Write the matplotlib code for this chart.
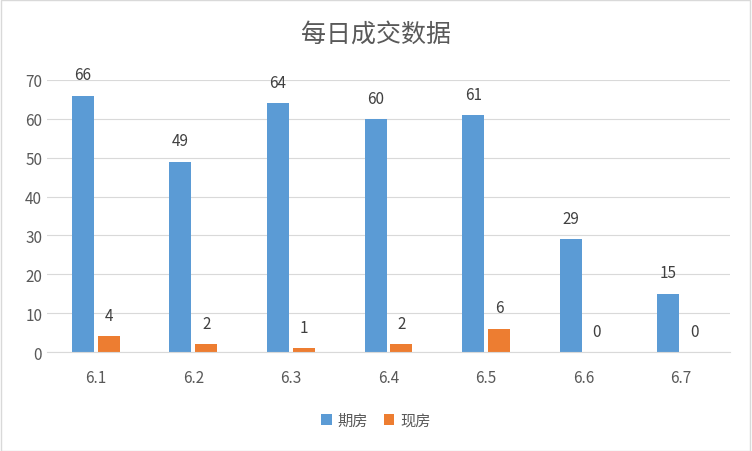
import matplotlib
matplotlib.use("Agg")
import matplotlib.pyplot as plt
import numpy as np

plt.rcParams["font.family"] = ["Noto Sans CJK SC", "DejaVu Sans"]

categories = ["6.1", "6.2", "6.3", "6.4", "6.5", "6.6", "6.7"]
futures = [66, 49, 64, 60, 61, 29, 15]
spot = [4, 2, 1, 2, 6, 0, 0]

blue = "#5B9BD5"
orange = "#ED7D31"
text_color = "#595959"

fig = plt.figure(figsize=(7.52, 4.52), dpi=100)
ax = fig.add_axes([47 / 752, 1 - 353 / 452, (730 - 47) / 752, (353 - 81) / 452])

x = np.arange(len(categories))
width = 0.225
gap = 0.02
b1 = ax.bar(x - width / 2 - gap, futures, width, color=blue, label="期房")
b2 = ax.bar(x + width / 2 + gap, spot, width, color=orange, label="现房")

for bars in (b1, b2):
    for rect in bars:
        h = rect.get_height()
        ax.annotate(f"{int(h)}", (rect.get_x() + rect.get_width() / 2, h),
                    xytext=(0, 15), textcoords="offset points",
                    ha="center", va="center", fontsize=11, color="#404040")

ax.set_ylim(0, 70)
ax.set_yticks(range(0, 71, 10))
ax.set_xlim(-0.5, len(categories) - 0.5)
ax.set_xticks(x)
ax.set_xticklabels(categories)
ax.tick_params(axis="both", length=0, labelsize=11, colors=text_color)
ax.tick_params(axis="x", pad=12)
ax.grid(axis="y", color="#D9D9D9", linewidth=0.8)
ax.set_axisbelow(True)
for side in ("top", "right", "left"):
    ax.spines[side].set_visible(False)
ax.spines["bottom"].set_color("#D9D9D9")

fig.text(0.5, 1 - 35 / 452, "每日成交数据", ha="center", va="center",
         fontsize=18, color=text_color)
fig.legend(handles=[b1, b2], loc="center", bbox_to_anchor=(0.5, 1 - 421 / 452),
           ncol=2, frameon=False, fontsize=11, handlelength=0.7, handleheight=0.7,
           columnspacing=1.0, handletextpad=0.4, labelcolor=text_color)

fig.patches.append(plt.Rectangle((0.001, 0.001), 0.997, 0.997, transform=fig.transFigure,
                                 fill=False, edgecolor="#D9D9D9", linewidth=1))

fig.savefig("out.png", dpi=100)
